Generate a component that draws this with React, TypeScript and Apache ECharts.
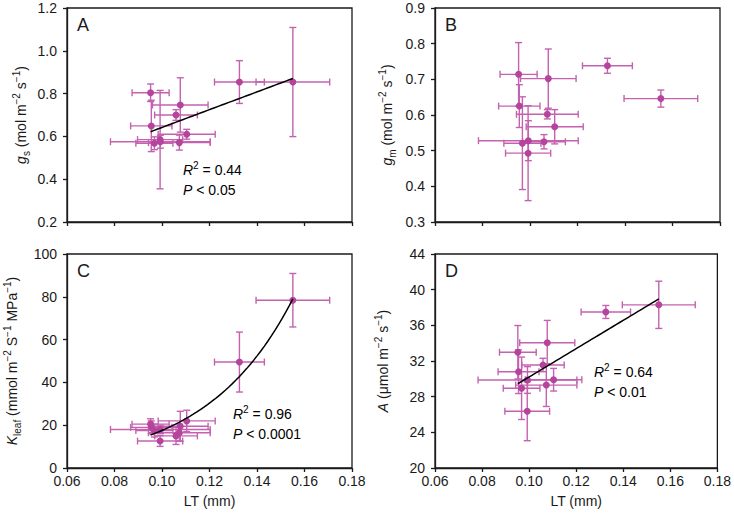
import React, { useEffect, useRef } from "react";
import * as echarts from "echarts";

// Leaf thickness (mm) and its error, shared by all panels
const LT = [0.0952, 0.0955, 0.0968, 0.0993, 0.0992, 0.1059, 0.1073, 0.1077, 0.1104, 0.1326, 0.1551];
const LT_ERR = [0.0078, 0.0087, 0.0078, 0.021, 0.0095, 0.009, 0.013, 0.0117, 0.012, 0.0105, 0.0155];
// Panel A: gs
const GS = [0.804, 0.649, 0.568, 0.575, 0.585, 0.7, 0.571, 0.747, 0.61, 0.854, 0.854];
const GS_ERR = [0.041, 0.12, 0.03, 0.03, 0.23, 0.025, 0.035, 0.127, 0.023, 0.1, 0.255];
// Panel B: gm
const GM = [0.714, 0.625, 0.521, 0.528, 0.493, 0.525, 0.602, 0.702, 0.567, 0.738, 0.646];
const GM_ERR = [0.089, 0.06, 0.13, 0.056, 0.133, 0.02, 0.013, 0.083, 0.048, 0.021, 0.024];
// Panel C: Kleaf
const KLEAF = [20.5, 19, 17.5, 18, 12.6, 15, 16.5, 19.5, 22, 49.5, 78.4];
const KLEAF_ERR = [2.5, 3, 3, 2, 2.5, 4, 4, 7, 5, 14, 12.5];
// Panel D: A
const A_VAL = [32.98, 30.8, 28.94, 29.87, 26.36, 31.55, 29.3, 34.05, 29.9, 37.5, 38.3];
const A_ERR = [3.0, 2.45, 3.5, 1.5, 3.3, 0.75, 2.4, 2.5, 1.27, 0.73, 2.65];

// Fits
const FIT_A = [0.227, 4.15]; // intercept, slope
const FIT_C = [1.145, 27.3]; // a * exp(b * x)
const FIT_D = [14.33, 158.8]; // intercept, slope

const X_TICKS = ["0.06", "0.08", "0.10", "0.12", "0.14", "0.16", "0.18"];
const STATS = [
  { panel: "A", r2: "0.44", p: "0.05" },
  { panel: "B", r2: "", p: "" },
  { panel: "C", r2: "0.96", p: "0.0001" },
  { panel: "D", r2: "0.64", p: "0.01" },
];

const FONT = "'Liberation Sans', Arial, Helvetica, sans-serif";
const PT = "#b4449c";
const BAR = "#c562b0";
const INK = "#1a1a1a";

const GRIDS = [
  { left: 67, top: 8, width: 285, height: 214 },
  { left: 435, top: 8, width: 285, height: 214 },
  { left: 67, top: 254, width: 285, height: 214 },
  { left: 435, top: 254, width: 285, height: 214 },
];

const richName = {
  i: { fontStyle: "italic", fontSize: 14, fontFamily: FONT, color: INK, lineHeight: 20 },
  n: { fontSize: 14, fontFamily: FONT, color: INK, lineHeight: 20 },
  sub: { fontSize: 10, fontFamily: FONT, color: INK, verticalAlign: "bottom", lineHeight: 14 },
  sup: { fontSize: 10, fontFamily: FONT, color: INK, verticalAlign: "top", lineHeight: 14 },
};

export default function App() {
  const ref = useRef<HTMLDivElement>(null);
  useEffect(() => {
    if (!ref.current) return;
    const chart = echarts.init(ref.current, null, { renderer: "svg" });
    const minLT = Math.min(...LT);
    const maxLT = Math.max(...LT);

    const yDefs = [
      { min: 0.2, max: 1.2, interval: 0.2, dec: 1, name: "{i|g}{sub|s}{n| (mol m}{sup|−2}{n| s}{sup|−1}{n|)}", gap: 36 },
      { min: 0.3, max: 0.9, interval: 0.1, dec: 1, name: "{i|g}{sub|m}{n| (mol m}{sup|−2}{n| s}{sup|−1}{n|)}", gap: 38 },
      { min: 0, max: 100, interval: 20, dec: 0, name: "{i|K}{sub|leaf}{n| (mmol m}{sup|−2}{n| S}{sup|−1}{n| MPa}{sup|−1}{n|)}", gap: 45 },
      { min: 20, max: 44, interval: 4, dec: 0, name: "{i|A}{n| (μmol m}{sup|−2}{n| s}{sup|−1}{n|)}", gap: 42 },
    ];
    const values = [GS, GM, KLEAF, A_VAL];
    const errs = [GS_ERR, GM_ERR, KLEAF_ERR, A_ERR];

    const xAxis = GRIDS.map((_, i) => ({
      type: "value",
      gridIndex: i,
      min: 0.06,
      max: 0.18,
      interval: 0.02,
      axisLine: { show: true, onZero: false, lineStyle: { color: INK, width: 1.3 } },
      axisTick: { show: true, length: 4, lineStyle: { color: INK, width: 1.3 } },
      splitLine: { show: false },
      axisLabel: {
        show: i >= 2,
        margin: 6,
        fontSize: 14,
        fontFamily: FONT,
        color: INK,
        formatter: (v: number) => X_TICKS[Math.round((v - 0.06) / 0.02)] ?? "",
      },
      name: i >= 2 ? "LT (mm)" : "",
      nameLocation: "middle",
      nameGap: 26,
      nameTextStyle: { fontSize: 14, fontFamily: FONT, color: INK },
    }));

    const yAxis = yDefs.map((d, i) => ({
      type: "value",
      gridIndex: i,
      min: d.min,
      max: d.max,
      interval: d.interval,
      axisLine: { show: true, onZero: false, lineStyle: { color: INK, width: 1.3 } },
      axisTick: { show: true, length: 4, lineStyle: { color: INK, width: 1.3 } },
      splitLine: { show: false },
      axisLabel: {
        margin: 10,
        fontSize: 14,
        fontFamily: FONT,
        color: INK,
        formatter: (v: number) => v.toFixed(d.dec),
      },
      name: d.name,
      nameLocation: "middle",
      nameRotate: 90,
      nameGap: d.gap,
      nameTextStyle: { rich: richName },
    }));

    const series: any[] = [];
    values.forEach((vals, i) => {
      const data = LT.map((x, k) => [x, vals[k], LT_ERR[k], errs[i][k]]);
      series.push({
        type: "custom",
        xAxisIndex: i,
        yAxisIndex: i,
        clip: false,
        encode: { x: 0, y: 1 },
        data,
        z: 2,
        renderItem: (params: any, api: any) => {
          const x = api.value(0);
          const y = api.value(1);
          const ex = api.value(2);
          const ey = api.value(3);
          const l = api.coord([x - ex, y]);
          const r = api.coord([x + ex, y]);
          const t = api.coord([x, y + ey]);
          const b = api.coord([x, y - ey]);
          const cap = 3.5;
          const style = { stroke: BAR, lineWidth: 1.4, fill: null };
          const ln = (x1: number, y1: number, x2: number, y2: number) => ({
            type: "line",
            shape: { x1, y1, x2, y2 },
            style,
          });
          return {
            type: "group",
            children: [
              ln(l[0], l[1], r[0], r[1]),
              ln(l[0], l[1] - cap, l[0], l[1] + cap),
              ln(r[0], r[1] - cap, r[0], r[1] + cap),
              ln(t[0], t[1], b[0], b[1]),
              ln(t[0] - cap, t[1], t[0] + cap, t[1]),
              ln(b[0] - cap, b[1], b[0] + cap, b[1]),
            ],
          };
        },
      });
      series.push({
        type: "scatter",
        xAxisIndex: i,
        yAxisIndex: i,
        data: LT.map((x, k) => [x, vals[k]]),
        symbolSize: 7,
        itemStyle: { color: PT, opacity: 1 },
        z: 3,
      });
    });

    const N = 40;
    const fitLine = (f: (x: number) => number) =>
      Array.from({ length: N + 1 }, (_, k) => {
        const x = minLT + ((maxLT - minLT) * k) / N;
        return [x, f(x)];
      });
    const fits: [number, (x: number) => number][] = [
      [0, (x) => FIT_A[0] + FIT_A[1] * x],
      [2, (x) => FIT_C[0] * Math.exp(FIT_C[1] * x)],
      [3, (x) => FIT_D[0] + FIT_D[1] * x],
    ];
    fits.forEach(([i, f]) => {
      series.push({
        type: "line",
        xAxisIndex: i,
        yAxisIndex: i,
        data: fitLine(f),
        showSymbol: false,
        smooth: false,
        lineStyle: { color: "#000", width: 1.5 },
        z: 4,
      });
    });

    const statPos: Record<string, [number, number]> = {
      A: [183, 160],
      C: [233, 404],
      D: [594, 362],
    };
    const richStat = {
      i: { fontStyle: "italic", fontSize: 14, fontFamily: FONT, color: INK, lineHeight: 20 },
      n: { fontSize: 14, fontFamily: FONT, color: INK, lineHeight: 20 },
      sup: { fontSize: 10, fontFamily: FONT, color: INK, verticalAlign: "top", lineHeight: 14 },
    };
    const graphics: any[] = [];
    STATS.forEach((s, i) => {
      const g = GRIDS[i];
      graphics.push({
        type: "text",
        left: g.left + 10,
        top: g.top + 8,
        style: { text: s.panel, fontSize: 18, fontFamily: FONT, fill: INK },
      });
      if (s.r2) {
        const [px, py] = statPos[s.panel];
        graphics.push({
          type: "text",
          left: px,
          top: py,
          style: {
            text: `{i|R}{sup|2}{n| = ${s.r2}}\n{i|P}{n| < ${s.p}}`,
            rich: richStat,
            fontSize: 14,
            fontFamily: FONT,
          },
        });
      }
    });

    chart.setOption({
      animation: false,
      grid: GRIDS.map((g) => ({ ...g, show: true, borderColor: INK, borderWidth: 1.3, backgroundColor: "transparent" })),
      xAxis,
      yAxis,
      series,
      graphic: graphics,
    });
    return () => chart.dispose();
  }, []);
  return <div ref={ref} style={{ position: "fixed", left: 0, top: 0, width: 734, height: 518, background: "#fff" }} />;
}
